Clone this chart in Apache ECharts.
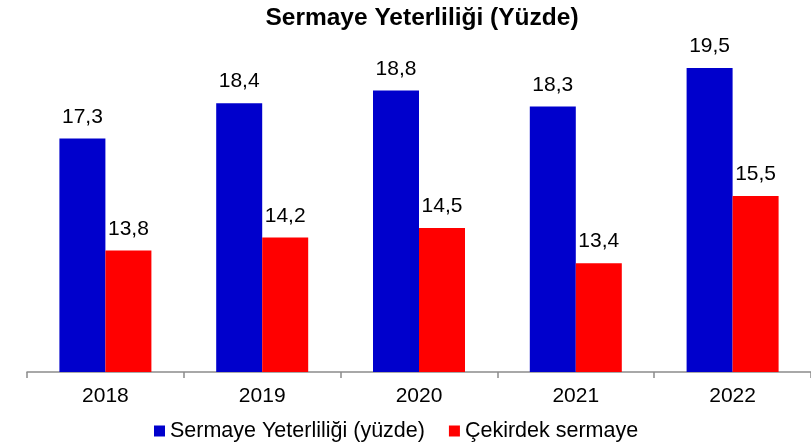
<!DOCTYPE html>
<html>
<head>
<meta charset="utf-8">
<script src="https://cdn.jsdelivr.net/npm/echarts@6/dist/echarts.min.js"></script>
<style>
html, body { margin: 0; padding: 0; background: #fff; }
#chart { width: 811px; height: 443px; }
</style>
</head>
<body>
<div id="chart"></div>
<script>
var years = ['2018', '2019', '2020', '2021', '2022'];
var sermayeYeterliligi = [17.3, 18.4, 18.8, 18.3, 19.5];
var cekirdekSermaye = [13.8, 14.2, 14.5, 13.4, 15.5];

var fontFamily = '"Liberation Sans", Arial, sans-serif';

function virgul(p) {
	return String(p.value.toFixed(1)).replace('.', ',');
}

var myChart = echarts.init(document.getElementById('chart'));
myChart.setOption({
	animation: false,
	textStyle: { fontFamily: fontFamily },
	title: {
		text: 'Sermaye Yeterliliği (Yüzde)',
		left: 417,
		textAlign: 'center',
		top: 1,
		textStyle: { fontSize: 24.5, fontWeight: 'bold', color: '#000', fontFamily: fontFamily }
	},
	legend: {
		top: 415,
		left: 149,
		itemWidth: 11,
		itemHeight: 11,
		itemGap: 24,
		icon: 'rect',
		textStyle: { fontSize: 21.5, color: '#000', fontFamily: fontFamily },
		data: ['Sermaye Yeterliliği (yüzde)', 'Çekirdek sermaye']
	},
	grid: { left: 27, top: 52, width: 795, bottom: 71 },
	xAxis: {
		type: 'category',
		data: years,
		axisLine: { lineStyle: { color: '#8c8c8c', width: 1.5 } },
		axisTick: { show: true, length: 6, lineStyle: { color: '#8c8c8c', width: 1.5 } },
		axisLabel: { fontSize: 21, color: '#000', margin: 14, fontFamily: fontFamily }
	},
	yAxis: {
		type: 'value',
		min: 10,
		max: 20,
		show: false,
		splitLine: { show: false }
	},
	series: [{
		name: 'Sermaye Yeterliliği (yüzde)',
		type: 'bar',
		data: sermayeYeterliligi,
		barWidth: 46,
		barGap: '0%',
		itemStyle: { color: '#0000CC' },
		label: { show: true, position: 'top', distance: 11, fontSize: 21, color: '#000', formatter: virgul }
	}, {
		name: 'Çekirdek sermaye',
		type: 'bar',
		data: cekirdekSermaye,
		barWidth: 46,
		barGap: '0%',
		itemStyle: { color: '#FF0000' },
		label: { show: true, position: 'top', distance: 11, fontSize: 21, color: '#000', formatter: virgul }
	}]
});
</script>
</body>
</html>
